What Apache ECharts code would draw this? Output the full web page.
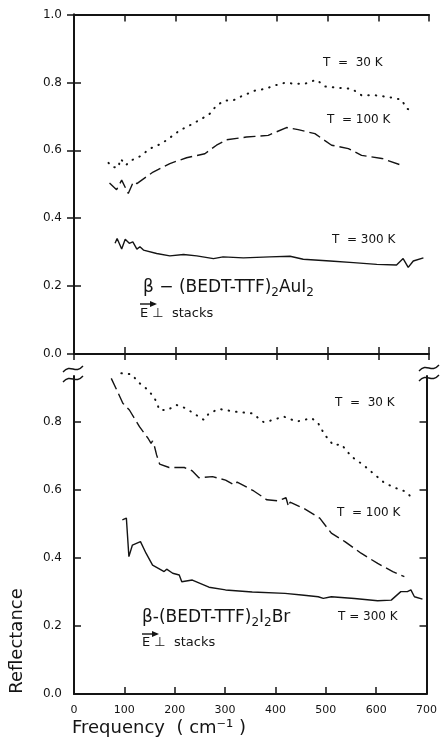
<!DOCTYPE html>
<html><head><meta charset="utf-8">
<script src="https://cdn.jsdelivr.net/npm/echarts@6/dist/echarts.min.js"></script>
<style>html,body{margin:0;padding:0;background:#fff}#c{width:440px;height:744px}</style>
</head><body><div id="c"></div>
<script>
// ---- Data ----
// Top panel: beta-(BEDT-TTF)2AuI2
var topT30x = [68,76,87,92,102,114,130,150,173,189,209,229,252,268,281,298,314,334,350,357,377,396,416,436,455,478,495,521,548,567,594,620,646,656,671];
var topT30y = [0.563,0.551,0.549,0.575,0.556,0.571,0.582,0.605,0.620,0.637,0.659,0.674,0.693,0.708,0.732,0.747,0.747,0.762,0.771,0.776,0.781,0.791,0.799,0.796,0.796,0.808,0.788,0.784,0.781,0.762,0.762,0.757,0.749,0.723,0.713];
var topT100x = [70,84,94,107,117,124,156,189,222,258,281,301,340,357,383,419,442,475,508,541,567,607,646];
var topT100y = [0.504,0.484,0.512,0.473,0.507,0.502,0.536,0.561,0.578,0.590,0.615,0.631,0.639,0.641,0.644,0.667,0.661,0.649,0.615,0.605,0.585,0.576,0.556];
var topT300x = [81,85,94,101,109,116,124,130,137,163,189,216,242,275,294,334,386,426,452,505,551,597,636,649,659,669,689];
var topT300y = [0.326,0.340,0.309,0.338,0.326,0.330,0.309,0.316,0.306,0.296,0.289,0.293,0.289,0.281,0.286,0.283,0.286,0.288,0.279,0.274,0.269,0.264,0.262,0.281,0.255,0.274,0.283];
// Bottom panel: beta-(BEDT-TTF)2I2Br
var botT30x = [94,114,130,147,160,170,186,203,222,242,258,268,288,321,354,377,396,416,442,472,485,498,515,531,551,574,594,617,640,659,669];
var botT30y = [0.943,0.940,0.914,0.894,0.870,0.835,0.835,0.850,0.840,0.821,0.806,0.825,0.838,0.830,0.825,0.799,0.806,0.816,0.801,0.811,0.796,0.762,0.732,0.734,0.698,0.674,0.649,0.620,0.605,0.595,0.580];
var botT100x = [74,88,97,110,130,147,153,156,160,164,170,189,219,235,248,275,301,318,324,357,383,406,421,426,429,456,488,511,538,570,603,633,656];
var botT100y = [0.928,0.884,0.855,0.835,0.786,0.752,0.737,0.744,0.727,0.703,0.676,0.666,0.666,0.656,0.636,0.639,0.629,0.615,0.623,0.597,0.571,0.568,0.577,0.551,0.564,0.546,0.517,0.473,0.448,0.414,0.384,0.360,0.345];
var botT300x = [96,104,109,116,132,143,156,179,184,196,209,214,235,268,301,354,419,452,485,495,511,557,603,630,649,662,669,676,692];
var botT300y = [0.512,0.517,0.404,0.438,0.448,0.414,0.379,0.360,0.367,0.355,0.350,0.330,0.335,0.314,0.306,0.300,0.296,0.291,0.286,0.281,0.286,0.281,0.274,0.276,0.301,0.301,0.306,0.286,0.279];
// Axis ticks
var xTicks = [0,100,200,300,400,500,600,700];
var yTicksTop = [0,0.2,0.4,0.6,0.8,1.0];
var yTicksBot = [0,0.2,0.4,0.6,0.8];

function zip(a,b){return a.map(function(v,i){return [v,b[i]];});}

var INK = '#141414';
var FONT = 'DejaVu Sans';
var chart = echarts.init(document.getElementById('c'), null, {renderer:'canvas'});

var axisLine = {show:true, lineStyle:{color:INK, width:2}};
var tickIn = {show:true, inside:true, length:7, lineStyle:{color:INK, width:1.5}};
var tickOut = {show:true, inside:false, length:6, lineStyle:{color:INK, width:1.5}};
var yLab = {show:true, margin:12, color:INK, fontFamily:FONT, fontSize:12,
            formatter:function(v){return v.toFixed(1);}};

function xAx(grid, pos, opts){
  return Object.assign({type:'value', gridIndex:grid, position:pos, min:0, max:700, interval:100,
    axisLine:axisLine, axisTick:tickIn, axisLabel:{show:false}, splitLine:{show:false}}, opts||{});
}

var option = {
  backgroundColor:'#fff',
  animation:false,
  grid:[
    {left:74, right:11, top:14.5, height:339.5},
    {left:74, right:11, top:376, height:318}
  ],
  xAxis:[
    xAx(0,'bottom'),
    xAx(0,'bottom',{axisLine:{show:false}, axisTick:tickOut}),
    xAx(0,'top'),
    xAx(1,'bottom',{axisLabel:{show:true, margin:11, color:INK, fontFamily:FONT, fontSize:11}})
  ],
  yAxis:[
    {type:'value', gridIndex:0, position:'left', min:0, max:1, interval:0.2,
     axisLine:axisLine, axisTick:tickIn, axisLabel:yLab, splitLine:{show:false}},
    {type:'value', gridIndex:0, position:'right', min:0, max:1, interval:0.2,
     axisLine:axisLine, axisTick:tickIn, axisLabel:{show:false}, splitLine:{show:false}},
    {type:'value', gridIndex:1, position:'left', min:0, max:0.935, interval:0.2,
     axisLine:axisLine, axisTick:Object.assign({customValues:yTicksBot}, tickIn),
     axisLabel:Object.assign({customValues:yTicksBot}, yLab), splitLine:{show:false}},
    {type:'value', gridIndex:1, position:'right', min:0, max:0.935, interval:0.2,
     axisLine:axisLine, axisTick:Object.assign({customValues:yTicksBot}, tickIn),
     axisLabel:{show:false}, splitLine:{show:false}}
  ],
  series:[
    {type:'line', xAxisIndex:0, yAxisIndex:0, data:zip(topT30x,topT30y), showSymbol:false,
     lineStyle:{color:INK, width:2, type:[0.5,7], cap:'round'}},
    {type:'line', xAxisIndex:0, yAxisIndex:0, data:zip(topT100x,topT100y), showSymbol:false,
     lineStyle:{color:INK, width:1.4, type:[12,5]}},
    {type:'line', xAxisIndex:0, yAxisIndex:0, data:zip(topT300x,topT300y), showSymbol:false,
     lineStyle:{color:INK, width:1.4}},
    {type:'line', xAxisIndex:3, yAxisIndex:2, data:zip(botT30x,botT30y), showSymbol:false, clip:false,
     lineStyle:{color:INK, width:2, type:[0.5,7], cap:'round'}},
    {type:'line', xAxisIndex:3, yAxisIndex:2, data:zip(botT100x,botT100y), showSymbol:false, clip:false,
     lineStyle:{color:INK, width:1.4, type:[12,5]}},
    {type:'line', xAxisIndex:3, yAxisIndex:2, data:zip(botT300x,botT300y), showSymbol:false, clip:false,
     lineStyle:{color:INK, width:1.4}}
  ],
  graphic:[]
};

function txt(x,y,s,size){
  return {type:'text', x:x, y:y, style:{text:s, fill:INK, font:(size||12)+'px "'+FONT+'"', verticalAlign:'middle', align:'left'}};
}
function formula(x,y,s){
  return {type:'text', x:x, y:y, style:{text:s, fill:INK, font:'17px "'+FONT+'"', lineHeight:22,
    verticalAlign:'middle', align:'left',
    rich:{s:{fontSize:12, fontFamily:FONT, lineHeight:12, verticalAlign:'bottom', fill:INK}}}};
}
function arrow(x,y){
  return {type:'group', children:[
    {type:'line', shape:{x1:x, y1:y, x2:x+15, y2:y}, style:{stroke:INK, lineWidth:1.4}},
    {type:'polygon', shape:{points:[[x+17,y],[x+10,y-3],[x+10,y+3]]}, style:{fill:INK}}
  ]};
}
function brk(x,y){
  return {type:'group', children:[
    {type:'bezierCurve', shape:{x1:x, y1:y+3, cpx1:x+8, cpy1:y-6, cpx2:x+12, cpy2:y+6, x2:x+20, y2:y-3}, style:{stroke:INK, lineWidth:1.4, fill:null}},
    {type:'bezierCurve', shape:{x1:x, y1:y+13, cpx1:x+8, cpy1:y+4, cpx2:x+12, cpy2:y+16, x2:x+20, y2:y+7}, style:{stroke:INK, lineWidth:1.4, fill:null}}
  ]};
}

option.graphic = [
  txt(323,63,'T  =  30 K'),
  txt(327,120,'T  = 100 K'),
  txt(332,240,'T  = 300 K'),
  formula(143,288,'β − (BEDT-TTF){s|2}AuI{s|2}'),
  txt(140,314,'E ⊥  stacks',13),
  arrow(140,304),
  txt(335,403,'T  =  30 K'),
  txt(337,513,'T  = 100 K'),
  formula(142,618,'β-(BEDT-TTF){s|2}I{s|2}Br'),
  txt(338,617,'T = 300 K'),
  txt(142,643,'E ⊥  stacks',13),
  arrow(142,634),
  txt(72,728,'Frequency  ( cm⁻¹ )',18),
  {type:'text', x:17, y:641, rotation:Math.PI/2,
   style:{text:'Reflectance', fill:INK, font:'18px "'+FONT+'"', align:'center', verticalAlign:'middle'}},
  brk(63,369),
  brk(419,368)
];

chart.setOption(option);
</script></body></html>
